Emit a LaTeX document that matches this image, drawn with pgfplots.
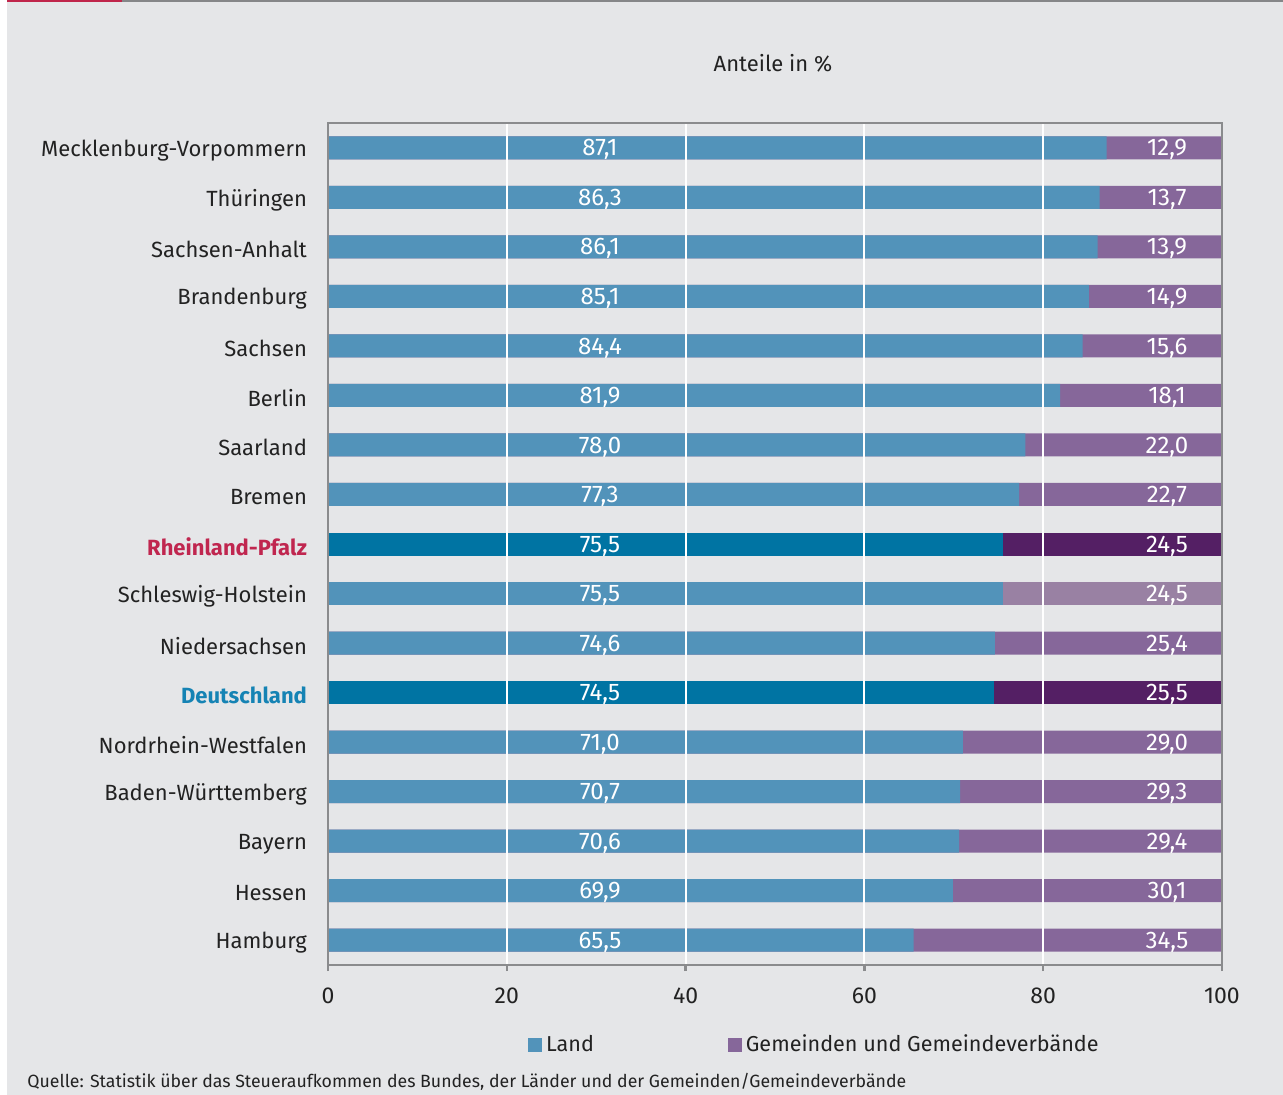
\documentclass[border=0pt]{standalone}
\usepackage{pgfplots}
\usepackage{pgfplotstable}
\pgfplotsset{compat=1.18}
\usepackage{fontspec}
\setmainfont{Fira Sans}
\definecolor{bgc}{HTML}{E5E6E8}
\definecolor{landc}{HTML}{5293BA}
\definecolor{gemc}{HTML}{86679A}
\definecolor{landd}{HTML}{0074A3}
\definecolor{gemd}{HTML}{541F64}
\definecolor{gemsh}{HTML}{9981A3}
\definecolor{axisgray}{HTML}{8A8B8D}
\definecolor{rlpcol}{HTML}{C0264F}
\definecolor{decol}{HTML}{1583B4}
\definecolor{textc}{HTML}{222222}
\definecolor{topred}{HTML}{C0264B}
\definecolor{topgray}{HTML}{858688}

\pgfplotstableread{
y land gem
16 87.1 12.9
15 86.3 13.7
14 86.1 13.9
13 85.1 14.9
12 84.4 15.6
11 81.9 18.1
10 78.0 22.0
9 77.3 22.7
6 74.6 25.4
4 71.0 29.0
3 70.7 29.3
2 70.6 29.4
1 69.9 30.1
0 65.5 34.5
}\normalrows
\pgfplotstableread{
y land gem
7 75.5 24.5
}\shrow
\pgfplotstableread{
y land gem
8 75.5 24.5
}\rlprow
\pgfplotstableread{
y land gem
5 74.5 25.5
}\derow
\pgfplotstableread{
y land gem
16 87.1 12.9
15 86.3 13.7
14 86.1 13.9
13 85.1 14.9
12 84.4 15.6
11 81.9 18.1
10 78.0 22.0
9 77.3 22.7
8 75.5 24.5
7 75.5 24.5
6 74.6 25.4
5 74.5 25.5
4 71.0 29.0
3 70.7 29.3
2 70.6 29.4
1 69.9 30.1
0 65.5 34.5
}\allrows

\begin{document}
\begin{tikzpicture}
\fill[white] (0,0) rectangle (641.5pt,-547.5pt);
\fill[bgc] (3.5pt,-1pt) rectangle (641.5pt,-547.5pt);
\fill[topred] (3.5pt,0) rectangle (61pt,-1pt);
\fill[topgray] (61pt,0) rectangle (641.5pt,-1pt);
\node[font=\fontsize{11}{13}\selectfont, text=textc] at (386.5pt,-31.5pt) {Anteile in \%};
\node[anchor=west, font=\fontsize{8.85}{10}\selectfont, text=textc, inner sep=0pt] at (13.5pt,-541pt) {Quelle: Statistik über das Steueraufkommen des Bundes, der Länder und der Gemeinden/Gemeindeverbände};
\begin{axis}[
  at={(164pt,-482.5pt)}, anchor=south west,
  width=447pt, height=421pt, scale only axis,
  xmin=0, xmax=100, ymin=-0.5, ymax=16.5,
  xtick={0,20,...,100}, ytick={0,...,16},
  yticklabels={Hamburg, Hessen, Bayern, Baden-Württemberg, Nordrhein-Westfalen, {\textcolor{decol}{\bfseries Deutschland}}, Niedersachsen, Schleswig-Holstein, {\textcolor{rlpcol}{\bfseries Rheinland-Pfalz}}, Bremen, Saarland, Berlin, Sachsen, Brandenburg, Sachsen-Anhalt, Thüringen, Mecklenburg-Vorpommern},
  axis on top,
  xmajorgrids, grid style={white, line width=1pt},
  axis line style={axisgray, line width=1.2pt},
  xtick pos=lower, ytick pos=left,
  ytick style={draw=none},
  xtick align=outside, major tick length=3pt,
  xtick style={axisgray, line width=1.2pt},
  yticklabel style={font=\fontsize{11}{13}\selectfont, text=textc, xshift=-7pt, yshift=-1.3pt},
  xticklabel style={font=\fontsize{11.5}{13}\selectfont, text=textc, yshift=-5pt},
  /pgf/number format/assume math mode=true,
  legend style={at={(0.217,-0.095)}, anchor=west, draw=none, fill=none,
    font=\fontsize{10.8}{12}\selectfont, text=textc,
    /tikz/every even column/.append style={column sep=65pt}},
  legend columns=2,
  legend cell align=left,
]
\addlegendimage{legend image code/.code={\fill[landc] (0pt,-3.25pt) rectangle (6.5pt,3.25pt);}}
\addlegendentry{Land}
\addlegendimage{legend image code/.code={\fill[gemc] (0pt,-3.25pt) rectangle (6.5pt,3.25pt);}}
\addlegendentry{Gemeinden und Gemeindeverbände}
% Gemeinden bars (full width, land drawn on top)
\addplot[xbar, bar width=11.5pt, bar shift=0pt, fill=gemc, draw=none, forget plot] table[x expr=100, y=y]{\normalrows};
\addplot[xbar, bar width=11.5pt, bar shift=0pt, fill=gemsh, draw=none, forget plot] table[x expr=100, y=y]{\shrow};
\addplot[xbar, bar width=11.5pt, bar shift=0pt, fill=gemd, draw=none, forget plot] table[x expr=100, y=y]{\rlprow};
\addplot[xbar, bar width=11.5pt, bar shift=0pt, fill=gemd, draw=none, forget plot] table[x expr=100, y=y]{\derow};
% Land bars
\addplot[xbar, bar width=11.5pt, bar shift=0pt, fill=landc, draw=none, forget plot] table[x=land, y=y]{\normalrows};
\addplot[xbar, bar width=11.5pt, bar shift=0pt, fill=landc, draw=none, forget plot] table[x=land, y=y]{\shrow};
\addplot[xbar, bar width=11.5pt, bar shift=0pt, fill=landd, draw=none, forget plot] table[x=land, y=y]{\rlprow};
\addplot[xbar, bar width=11.5pt, bar shift=0pt, fill=landd, draw=none, forget plot] table[x=land, y=y]{\derow};
% value labels
\addplot[draw=none, mark=none, forget plot, point meta=explicit,
  nodes near coords={\pgfmathprintnumber[fixed,fixed zerofill,precision=1,use comma]{\pgfplotspointmeta}},
  nodes near coords style={white, anchor=center, inner sep=0pt, yshift=-1pt, font=\fontsize{12}{14}\selectfont, /pgf/number format/assume math mode=true}]
  table[x expr=30.43, y=y, meta=land]{\allrows};
\addplot[draw=none, mark=none, forget plot, point meta=explicit,
  nodes near coords={\pgfmathprintnumber[fixed,fixed zerofill,precision=1,use comma]{\pgfplotspointmeta}},
  nodes near coords style={white, anchor=center, inner sep=0pt, yshift=-1pt, font=\fontsize{12}{14}\selectfont, /pgf/number format/assume math mode=true}]
  table[x expr=93.85, y=y, meta=gem]{\allrows};
\end{axis}
\end{tikzpicture}
\end{document}
